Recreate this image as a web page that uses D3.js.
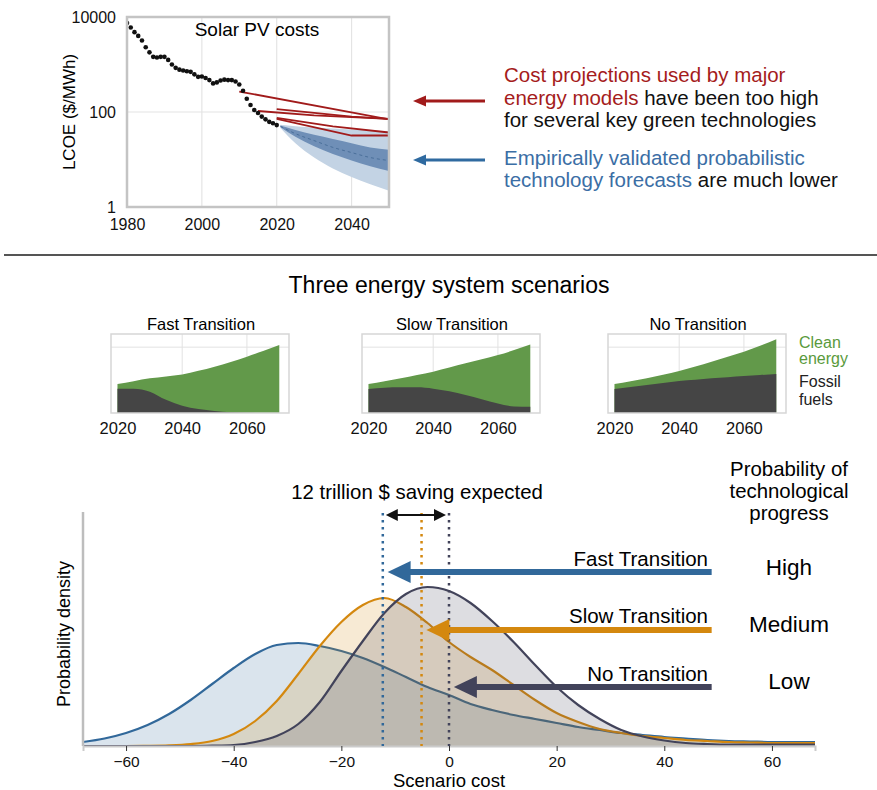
<!DOCTYPE html>
<html>
<head>
<meta charset="utf-8">
<script src="https://cdnjs.cloudflare.com/ajax/libs/d3/7.8.5/d3.min.js"></script>
<style>
body { margin: 0; background: #fff; }
text { font-family: "Liberation Sans", Arial, Helvetica, sans-serif; }
</style>
</head>
<body>
<div id="chartContainer"></div>
<script>
// ---------- data: solar PV history ($/MWh) ----------
const pvYears = [1980, 1981, 1982, 1983, 1984, 1985, 1986, 1987, 1988, 1989, 1990,
    1991, 1992, 1993, 1994, 1995, 1996, 1997, 1998, 1999, 2000,
    2001, 2002, 2003, 2004, 2005, 2006, 2007, 2008, 2009, 2010,
    2011, 2012, 2013, 2014, 2015, 2016, 2017, 2018, 2019, 2020];
const pvCosts = [7500, 6000, 4800, 4000, 3200, 2300, 1800, 1450, 1400, 1450, 1450,
    1250, 1000, 850, 780, 750, 720, 700, 620, 550, 560,
    520, 470, 400, 420, 460, 480, 470, 470, 440, 380,
    280, 190, 140, 110, 95, 80, 70, 62, 58, 53];

// energy model projections (red lines): [year, $/MWh]
const modelProjections = [
    [[2010, 270], [2050, 70]],
    [[2020, 115], [2040, 80], [2050, 72]],
    [[2015, 105], [2030, 85], [2050, 72]],
    [[2020, 75], [2035, 50], [2050, 37]],
    [[2020, 72], [2040, 32], [2050, 32]]
];

// probabilistic forecast fan
const fanYears = [2021, 2025, 2030, 2035, 2040, 2045, 2050];
const fanMedian = [50, 35, 25, 18, 14, 11, 9.5];
const fanInnerHigh = [52, 42, 33, 27, 22, 18, 16];
const fanInnerLow = [48, 30, 19, 13, 9.5, 7.2, 5.7];
const fanOuterHigh = [54, 50, 47, 45, 43, 41, 40];
const fanOuterLow = [46, 22, 11, 6.5, 4.3, 3, 2.2];

// ---------- data: energy system scenarios ----------
const energyYears = [2020, 2025, 2030, 2035, 2040, 2045, 2050, 2055, 2060, 2065, 2070];
const scenarioNames = ["Fast Transition", "Slow Transition", "No Transition"];
const totalEnergy = [
    [2.2, 2.42, 2.63, 2.78, 2.93, 3.2, 3.52, 3.88, 4.28, 4.7, 5.16],
    [2.2, 2.42, 2.63, 2.88, 3.14, 3.45, 3.77, 4.08, 4.4, 4.78, 5.2],
    [2.2, 2.42, 2.63, 2.9, 3.19, 3.53, 3.9, 4.27, 4.65, 5.1, 5.6]
];
const fossilEnergy = [
    [1.85, 1.84, 1.62, 1.0, 0.56, 0.3, 0.15, 0.05, 0.01, 0, 0],
    [1.83, 1.92, 1.95, 1.95, 1.85, 1.65, 1.37, 1.05, 0.73, 0.5, 0.47],
    [1.83, 1.98, 2.13, 2.28, 2.43, 2.53, 2.63, 2.72, 2.81, 2.88, 2.96]
];
const energyTicks = [2020, 2040, 2060];

// ---------- data: scenario cost distributions ----------
const costGrid = [-68, -64, -60, -56, -52, -48, -44, -40, -36, -32, -28, -24, -20, -16, -12, -8, -4,
    0, 4, 8, 12, 16, 20, 24, 28, 32, 36, 40, 44, 48, 52, 56, 60, 64, 68];
const densityFast = [0.004, 0.0075, 0.013, 0.021, 0.032, 0.046, 0.062, 0.078, 0.092, 0.101, 0.103, 0.100, 0.095, 0.088, 0.079, 0.069, 0.059,
    0.051, 0.042, 0.036, 0.031, 0.027, 0.023, 0.019, 0.016, 0.013, 0.011, 0.009, 0.0075, 0.006, 0.005, 0.0045, 0.004, 0.004, 0.004];
const densitySlow = [0, 0, 0, 0.0002, 0.0007, 0.002, 0.005, 0.012, 0.025, 0.045, 0.072, 0.100, 0.124, 0.141, 0.148, 0.139, 0.123,
    0.104, 0.089, 0.076, 0.061, 0.046, 0.033, 0.024, 0.017, 0.013, 0.010, 0.008, 0.006, 0.005, 0.004, 0.0035, 0.003, 0.003, 0.003];
const densityNone = [0, 0, 0, 0, 0, 0, 0.0003, 0.001, 0.004, 0.010, 0.022, 0.044, 0.075, 0.105, 0.133, 0.152, 0.159,
    0.155, 0.143, 0.125, 0.104, 0.081, 0.059, 0.041, 0.027, 0.016, 0.0095, 0.0055, 0.003, 0.002, 0.0015, 0.0015, 0.0015, 0.0015, 0.0015];
const expectedCost = [-12.3, -5.1, 0];
const costTicks = [-60, -40, -20, 0, 20, 40, 60];
const progressLabels = ["High", "Medium", "Low"];

const scenarioColors = ["#31689a", "#d4880f", "#42435a"];

const svg = d3.select("#chartContainer")
    .append("svg")
    .attr("width", 877)
    .attr("height", 790);

// helper: horizontal arrow pointing left, tip at xTip
function leftArrow(g, xTail, xTip, y, color, width, headLen, headHalf) {
    g.append("line")
        .attr("x1", xTail).attr("x2", xTip + headLen - 1)
        .attr("y1", y).attr("y2", y)
        .attr("stroke", color)
        .attr("stroke-width", width);
    g.append("path")
        .attr("d", `M${xTip},${y} L${xTip + headLen},${y - headHalf} L${xTip + headLen},${y + headHalf} Z`)
        .attr("fill", color);
}

// ================= Top panel: solar PV costs =================
const pv = { left: 127, right: 389, top: 17, bottom: 207 };
const xYear = d3.scaleLinear().domain([1980, 2050]).range([pv.left, pv.right]);
const yPrice = d3.scaleLog().domain([1, 10000]).range([pv.bottom, pv.top]);

const topG = svg.append("g");

topG.selectAll(".vgrid")
    .data([2000, 2020, 2040])
    .enter()
    .append("line")
    .attr("x1", d => xYear(d)).attr("x2", d => xYear(d))
    .attr("y1", pv.top).attr("y2", pv.bottom)
    .attr("stroke", "#e4e4e4").attr("stroke-width", 1.2);
topG.append("line")
    .attr("x1", pv.left).attr("x2", pv.right)
    .attr("y1", yPrice(100)).attr("y2", yPrice(100))
    .attr("stroke", "#e4e4e4").attr("stroke-width", 1.2);

svg.append("clipPath").attr("id", "pvClip")
    .append("rect")
    .attr("x", pv.left).attr("y", pv.top)
    .attr("width", pv.right - pv.left).attr("height", pv.bottom - pv.top);

const plotG = topG.append("g").attr("clip-path", "url(#pvClip)");

const fanArea = (lo, hi) => d3.area()
    .x((d, i) => xYear(fanYears[i]))
    .y0((d, i) => yPrice(lo[i]))
    .y1((d, i) => yPrice(hi[i]))
    .curve(d3.curveMonotoneX)(fanYears);

plotG.append("path").attr("d", fanArea(fanOuterLow, fanOuterHigh)).attr("fill", "#c3d3e4");
plotG.append("path").attr("d", fanArea(fanInnerLow, fanInnerHigh)).attr("fill", "#6f8fb7");
plotG.append("path")
    .attr("d", d3.line()
        .x((d, i) => xYear(fanYears[i]))
        .y(d => yPrice(d))
        .curve(d3.curveMonotoneX)(fanMedian))
    .attr("fill", "none")
    .attr("stroke", "#4a6f9a")
    .attr("stroke-width", 1)
    .attr("stroke-dasharray", "3,3");

plotG.selectAll(".proj")
    .data(modelProjections)
    .enter()
    .append("path")
    .attr("d", d3.line().x(d => xYear(d[0])).y(d => yPrice(d[1])))
    .attr("fill", "none")
    .attr("stroke", "#a11b1b")
    .attr("stroke-width", 1.8);

plotG.selectAll(".pvdot")
    .data(pvYears)
    .enter()
    .append("circle")
    .attr("cx", d => xYear(d))
    .attr("cy", (d, i) => yPrice(pvCosts[i]))
    .attr("r", 2.3)
    .attr("fill", "#111");

topG.append("rect")
    .attr("x", pv.left).attr("y", pv.top)
    .attr("width", pv.right - pv.left).attr("height", pv.bottom - pv.top)
    .attr("fill", "none")
    .attr("stroke", "#c4c4c4")
    .attr("stroke-width", 2.5);

const yAxisTop = topG.append("g")
    .attr("transform", `translate(${pv.left},0)`)
    .call(d3.axisLeft(yPrice).tickValues([1, 100, 10000]).tickFormat(d3.format("d")).tickSize(0).tickPadding(11));
const xAxisTop = topG.append("g")
    .attr("transform", `translate(0,${pv.bottom})`)
    .call(d3.axisBottom(xYear).tickValues([1980, 2000, 2020, 2040]).tickFormat(d3.format("d")).tickSize(0).tickPadding(12));
[yAxisTop, xAxisTop].forEach(a => {
    a.select(".domain").remove();
    a.selectAll("text").attr("font-size", 16).attr("fill", "#111").style("font-family", "Liberation Sans, Arial, sans-serif");
});

topG.append("text")
    .attr("x", 257).attr("y", 36)
    .attr("text-anchor", "middle")
    .attr("font-size", 19)
    .text("Solar PV costs");

topG.append("text")
    .attr("transform", "translate(75,112) rotate(-90)")
    .attr("text-anchor", "middle")
    .attr("font-size", 17)
    .text("LCOE ($/MWh)");

// annotations right of the top chart
leftArrow(topG, 485, 413, 101, "#a11b1b", 3, 13, 5.5);
leftArrow(topG, 485, 413, 160, "#2f6aa0", 3, 13, 5.5);

const annot = [
    { y: 82, parts: [["Cost projections used by major", "#a51c1c"]] },
    { y: 105, parts: [["energy models", "#a51c1c"], [" have been too high", "#111"]] },
    { y: 127, parts: [["for several key green technologies", "#111"]] },
    { y: 165, parts: [["Empirically validated probabilistic", "#3b6ea5"]] },
    { y: 187, parts: [["technology forecasts", "#3b6ea5"], [" are much lower", "#111"]] }
];
annot.forEach(line => {
    const t = topG.append("text")
        .attr("x", 504).attr("y", line.y)
        .attr("font-size", 20.5)
        .attr("xml:space", "preserve");
    line.parts.forEach(p => t.append("tspan").attr("fill", p[1]).text(p[0]));
});

// divider
svg.append("line")
    .attr("x1", 4).attr("x2", 877)
    .attr("y1", 255).attr("y2", 255)
    .attr("stroke", "#555").attr("stroke-width", 2);

// ================= Middle: three energy scenarios =================
svg.append("text")
    .attr("x", 449).attr("y", 293)
    .attr("text-anchor", "middle")
    .attr("font-size", 23)
    .text("Three energy system scenarios");

const panelLefts = [111, 362, 608];
const panelW = 178, panelTop = 334, panelBottom = 413;
const xEnergy = d3.scaleLinear().domain([2018, 2073]).range([0, panelW]);
const yEnergy = d3.scaleLinear().domain([0, 6]).range([panelBottom, panelTop]);

scenarioNames.forEach((name, s) => {
    const g = svg.append("g").attr("transform", `translate(${panelLefts[s]},0)`);

    energyTicks.slice(1).forEach(t => {
        g.append("line")
            .attr("x1", xEnergy(t)).attr("x2", xEnergy(t))
            .attr("y1", panelTop).attr("y2", panelBottom)
            .attr("stroke", "#e2e2e2").attr("stroke-width", 1);
    });
    g.append("line")
        .attr("x1", 0).attr("x2", panelW)
        .attr("y1", yEnergy(5)).attr("y2", yEnergy(5))
        .attr("stroke", "#e2e2e2").attr("stroke-width", 1);

    g.append("path")
        .attr("d", d3.area()
            .x((d, i) => xEnergy(energyYears[i]))
            .y0(yEnergy(0))
            .y1(d => yEnergy(d))
            .curve(d3.curveMonotoneX)(totalEnergy[s]))
        .attr("fill", "#62994a");
    g.append("path")
        .attr("d", d3.area()
            .x((d, i) => xEnergy(energyYears[i]))
            .y0(yEnergy(0))
            .y1(d => yEnergy(d))
            .curve(d3.curveMonotoneX)(fossilEnergy[s]))
        .attr("fill", "#454545");

    g.append("rect")
        .attr("x", 0).attr("y", panelTop)
        .attr("width", panelW).attr("height", panelBottom - panelTop)
        .attr("fill", "none")
        .attr("stroke", "#d6d6d6")
        .attr("stroke-width", 1.5);

    g.append("text")
        .attr("x", panelW / 2 + 1).attr("y", 330)
        .attr("text-anchor", "middle")
        .attr("font-size", 16.5)
        .text(name);

    const ax = g.append("g")
        .attr("transform", `translate(0,${panelBottom})`)
        .call(d3.axisBottom(xEnergy).tickValues(energyTicks).tickFormat(d3.format("d")).tickSize(0).tickPadding(9));
    ax.select(".domain").remove();
    ax.selectAll("text").attr("font-size", 16.5).attr("fill", "#111").style("font-family", "Liberation Sans, Arial, sans-serif");
});

const legendLines = [["Clean", 348, "#5a9a3c"], ["energy", 364, "#5a9a3c"], ["Fossil", 387, "#222"], ["fuels", 405, "#222"]];
legendLines.forEach(l => {
    svg.append("text")
        .attr("x", 799).attr("y", l[1])
        .attr("font-size", 16)
        .attr("fill", l[2])
        .text(l[0]);
});

// ================= Bottom: cost distributions =================
const xCost = d3.scaleLinear().domain([-68, 68]).range([83, 815]);
const yDens = d3.scaleLinear().domain([0, 0.234]).range([746, 512]);
const densities = [densityFast, densitySlow, densityNone];

const botG = svg.append("g");

densities.forEach((dens, s) => {
    botG.append("path")
        .attr("d", d3.area()
            .x((d, i) => xCost(costGrid[i]))
            .y0(yDens(0))
            .y1(d => yDens(d))
            .curve(d3.curveMonotoneX)(dens))
        .attr("fill", scenarioColors[s])
        .attr("fill-opacity", 0.18);
    botG.append("path")
        .attr("d", d3.line()
            .x((d, i) => xCost(costGrid[i]))
            .y(d => yDens(d))
            .curve(d3.curveMonotoneX)(dens))
        .attr("fill", "none")
        .attr("stroke", scenarioColors[s])
        .attr("stroke-width", 2.2);
});

// axes
botG.append("line")
    .attr("x1", xCost(-68)).attr("x2", xCost(-68))
    .attr("y1", 512).attr("y2", 746)
    .attr("stroke", "#bdbdbd").attr("stroke-width", 2.5);
const xAxisBot = botG.append("g")
    .attr("transform", "translate(0,746)")
    .call(d3.axisBottom(xCost).tickValues(costTicks).tickSize(5).tickPadding(5));
xAxisBot.select(".domain").attr("stroke", "#cbcbcb").attr("stroke-width", 2);
xAxisBot.selectAll(".tick line").attr("stroke", "#333");
xAxisBot.selectAll("text").attr("font-size", 15.5).attr("fill", "#111").style("font-family", "Liberation Sans, Arial, sans-serif");

// expected-cost dotted lines
expectedCost.forEach((c, s) => {
    botG.append("line")
        .attr("x1", xCost(c)).attr("x2", xCost(c))
        .attr("y1", 513).attr("y2", 746)
        .attr("stroke", scenarioColors[s])
        .attr("stroke-width", 2.5)
        .attr("stroke-dasharray", "2.5,4.5");
});

// saving double arrow
const sx1 = xCost(expectedCost[0]) + 3, sx2 = xCost(expectedCost[2]) - 3;
botG.append("line")
    .attr("x1", sx1 + 10).attr("x2", sx2 - 10)
    .attr("y1", 515).attr("y2", 515)
    .attr("stroke", "#111").attr("stroke-width", 2);
botG.append("path")
    .attr("d", `M${sx1},515 L${sx1 + 12},509 L${sx1 + 12},521 Z M${sx2},515 L${sx2 - 12},509 L${sx2 - 12},521 Z`)
    .attr("fill", "#111");
botG.append("text")
    .attr("x", 417).attr("y", 499)
    .attr("text-anchor", "middle")
    .attr("font-size", 20.4)
    .text("12 trillion $ saving expected");

// scenario arrows
const arrowRows = [572, 630, 687];
const labelRows = [566, 623, 681];
const progressRows = [575, 632, 689];
scenarioNames.forEach((name, s) => {
    leftArrow(botG, xCost(48.8), xCost(expectedCost[s] + 0.9), arrowRows[s], scenarioColors[s], 6, 23, 11);
    botG.append("text")
        .attr("x", 708).attr("y", labelRows[s])
        .attr("text-anchor", "end")
        .attr("font-size", 20.5)
        .text(name);
    botG.append("text")
        .attr("x", 789).attr("y", progressRows[s])
        .attr("text-anchor", "middle")
        .attr("font-size", 22.5)
        .text(progressLabels[s]);
});

[["Probability of", 476], ["technological", 498], ["progress", 520]].forEach(l => {
    botG.append("text")
        .attr("x", 789).attr("y", l[1])
        .attr("text-anchor", "middle")
        .attr("font-size", 20.4)
        .text(l[0]);
});

botG.append("text")
    .attr("x", 449).attr("y", 787)
    .attr("text-anchor", "middle")
    .attr("font-size", 18.5)
    .text("Scenario cost");

botG.append("text")
    .attr("transform", "translate(70,634) rotate(-90)")
    .attr("text-anchor", "middle")
    .attr("font-size", 18)
    .text("Probability density");
</script>
</body>
</html>
